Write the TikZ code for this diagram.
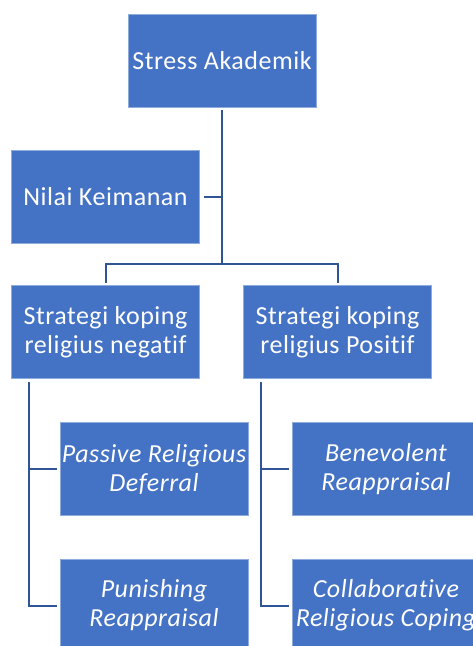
\documentclass[tikz,border=0pt]{standalone}
\usepackage{fontspec}
\setmainfont[Ligatures=NoCommon, LetterSpace=2]{Carlito}
\definecolor{boxfill}{HTML}{4472C4}
\definecolor{boxline}{HTML}{8FAADC}
\definecolor{connc}{HTML}{2F5597}
\tikzset{
  orgbox/.style={rectangle, fill=boxfill, draw=boxline, line width=0.8pt,
    minimum width=188pt, minimum height=93pt, inner sep=0pt, text=white,
    align=center, font=\fontsize{26}{29}\selectfont},
  itbox/.style={orgbox, font=\fontsize{26}{29}\selectfont\itshape},
  conn/.style={draw=connc, line width=2pt}
}
\begin{document}
\begin{tikzpicture}[x=1pt,y=-1pt]
\useasboundingbox (0,0) rectangle (473,646);
\clip (0,0) rectangle (473,646);
\node[orgbox] (sa) at (222,60.5) {Stress Akademik};
\node[orgbox] (nk) at (105.5,196.5) {Nilai Keimanan};
\node[orgbox] (neg) at (105.5,332) {Strategi koping\\religius negatif};
\node[orgbox] (pos) at (337.5,332) {Strategi koping\\religius Positif};
\node[itbox] (pass) at (154,469) {Passive Religious\\Deferral};
\node[itbox] (pun) at (154,605.5) {Punishing\\Reappraisal};
\node[itbox] (ben) at (386,469) {Benevolent\\Reappraisal};
\node[itbox] (col) at (386,605.5) {Collaborative\\Religious Coping};
\coordinate (j) at (222,264);
\coordinate (nl) at (29,382);
\coordinate (pl) at (261,382);
\draw[conn] ([yshift=-3pt]sa.south) -- (j);
\draw[conn] ([xshift=4pt]nk.east) -- (nk.east -| j);
\draw[conn] ([yshift=2pt]neg.north) |- (j) -| ([yshift=2pt]pos.north);
\draw[conn] (nl) |- ([xshift=-3pt]pass.west);
\draw[conn] (nl) |- ([xshift=-3pt]pun.west);
\draw[conn] (pl) |- ([xshift=-3pt]ben.west);
\draw[conn] (pl) |- ([xshift=-3pt]col.west);
\end{tikzpicture}
\end{document}
